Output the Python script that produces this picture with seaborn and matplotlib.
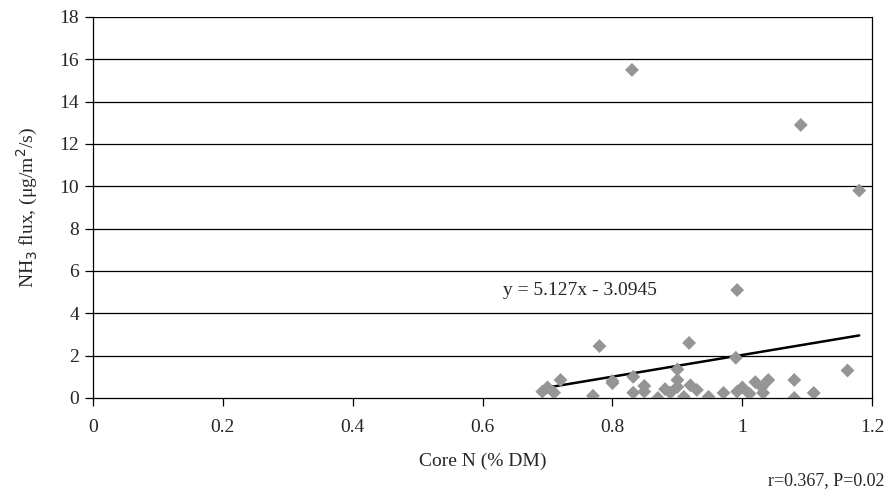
import matplotlib.pyplot as plt
import numpy as np
import pandas as pd
import seaborn as sns

# Core N (% DM) and NH3 flux readings
core_n = [0.83, 1.09, 1.18, 0.992, 0.918, 0.78, 0.99, 1.162,
          0.692, 0.70, 0.71, 0.72, 0.77, 0.80, 0.80, 0.832, 0.832,
          0.849, 0.849, 0.87, 0.881, 0.889, 0.90, 0.90, 0.90, 0.91,
          0.92, 0.93, 0.948, 0.971, 0.992, 1.0, 1.011, 1.02, 1.03,
          1.032, 1.04, 1.08, 1.08, 1.11]
nh3_flux = [15.5, 12.9, 9.8, 5.1, 2.6, 2.45, 1.9, 1.3,
            0.3, 0.5, 0.25, 0.85, 0.1, 0.7, 0.8, 1.0, 0.25,
            0.57, 0.3, 0.0, 0.42, 0.25, 1.35, 0.85, 0.52, 0.05,
            0.6, 0.38, 0.05, 0.24, 0.3, 0.5, 0.2, 0.75, 0.52,
            0.24, 0.85, 0.85, 0.0, 0.24]
slope = 5.127
intercept = -3.0945

xticks = [0, 0.2, 0.4, 0.6, 0.8, 1.0, 1.2]
xtick_labels = ["0", "0.2", "0.4", "0.6", "0.8", "1", "1.2"]
yticks = list(range(0, 19, 2))

df = pd.DataFrame({"core_n": core_n, "flux": nh3_flux})
fit_x = [min(core_n), max(core_n)]
fit = pd.DataFrame({"x": fit_x, "y": [slope * v + intercept for v in fit_x]})

sns.set_style("white", {"xtick.bottom": True, "ytick.left": True})
plt.rcParams["font.family"] = ["Liberation Serif", "DejaVu Serif"]

fig = plt.figure(figsize=(8.9, 4.95), dpi=100)
ax = fig.add_axes([0.1045, 0.196, 0.8755, 0.7697])

for y in yticks[1:]:
    ax.axhline(y, color="black", linewidth=0.9, zorder=1)

sns.lineplot(data=fit, x="x", y="y", ax=ax, color="black", linewidth=1.8, zorder=3)
sns.scatterplot(data=df, x="core_n", y="flux", ax=ax, marker="D", s=50,
                color="#959595", edgecolor="none", zorder=4)

ax.set_xlim(0, 1.2)
ax.set_ylim(0, 18)
ax.set_xticks(xticks)
ax.set_xticklabels(xtick_labels)
ax.set_yticks(yticks)
ax.tick_params(axis="both", labelsize=14, direction="out", length=6, width=0.9,
               color="black", left=True, bottom=True, pad=4)
ax.tick_params(axis="x", pad=9)
for side in ["left", "bottom", "right"]:
    ax.spines[side].set_visible(True)
    ax.spines[side].set_color("black")
    ax.spines[side].set_linewidth(0.9)
ax.spines["top"].set_visible(False)

ax.set_xlabel("Core N (% DM)", fontsize=14, labelpad=12)
ax.set_ylabel(r"NH$_3$ flux, ($\mathregular{\mu}$g/m$^2$/s)", fontsize=14, labelpad=14)

ax.text(0.632, 5.1, "y = 5.127x - 3.0945", fontsize=14, ha="left", va="center")
fig.text(0.994, 0.03, "r=0.367, P=0.02", fontsize=13, ha="right", va="center")

fig.savefig("out.png", dpi=100)
